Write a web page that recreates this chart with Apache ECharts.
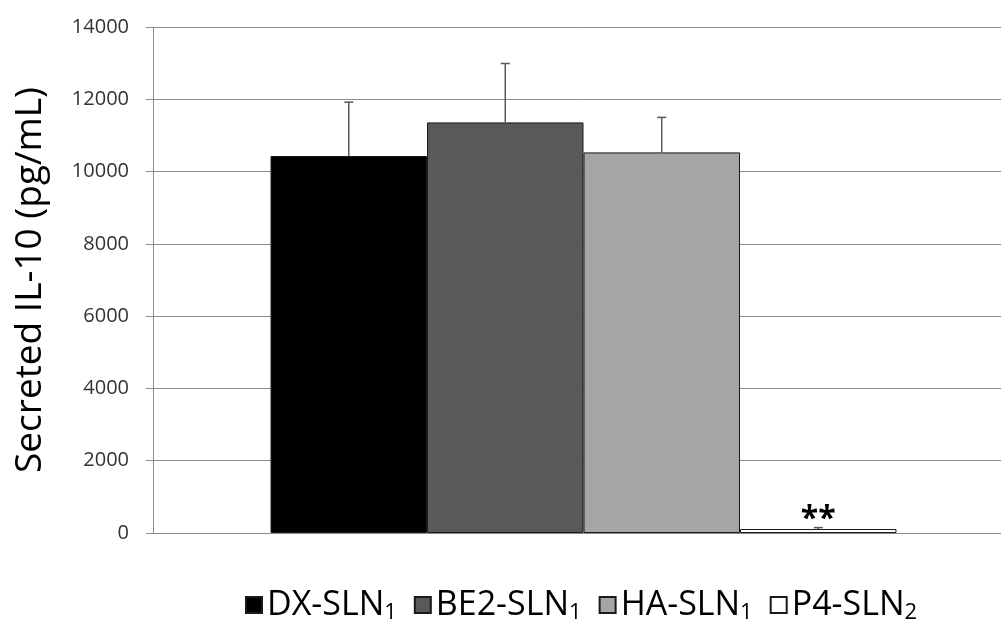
<!DOCTYPE html>
<html>
<head>
<meta charset="utf-8">
<script src="https://cdn.jsdelivr.net/npm/echarts@6/dist/echarts.min.js"></script>
<style>html,body{margin:0;padding:0;background:#fff;}#c{width:1001px;height:626px;}</style>
</head>
<body>
<div id="c"></div>
<script>
const categories = [''];
const seriesNames = ['DX-SLN', 'BE2-SLN', 'HA-SLN', 'P4-SLN'];
const seriesSubs = ['1', '1', '1', '2'];
const means = [10430, 11360, 10530, 110];
const errors = [1490, 1630, 970, 40];
const yTicks = [0, 2000, 4000, 6000, 8000, 10000, 12000, 14000];

const colors = ['#000000', '#595959', '#a6a6a6', '#ffffff'];
const gapRatio = 0.273;
const font = '"Open Sans", "Noto Sans", sans-serif';

const chart = echarts.init(document.getElementById('c'));

const barSeries = seriesNames.map((n, i) => ({
  name: n,
  type: 'bar',
  data: [means[i]],
  barGap: '0%',
  barCategoryGap: (gapRatio * 100) + '%',
  itemStyle: { color: colors[i], borderColor: '#1a1a1a', borderWidth: 1 },
  label: i === 3 ? {
    show: true, position: 'top', distance: -7, formatter: '**',
    fontSize: 32, fontWeight: 'bold', fontFamily: font, color: '#000'
  } : { show: false },
  emphasis: { disabled: true },
  z: 2
}));

const errData = means.map((m, i) => [0, m, errors[i], i]);

const errSeries = {
  type: 'custom',
  data: errData,
  z: 5,
  silent: true,
  renderItem: function (params, api) {
    const mean = api.value(1), err = api.value(2), k = api.value(3);
    const base = api.coord([0, mean]);
    const top = api.coord([0, mean + err]);
    const catW = api.size([1, 0])[0];
    const n = seriesNames.length;
    const bw = catW * (1 - gapRatio) / n;
    const x = base[0] + (k - (n - 1) / 2) * bw;
    const st = { stroke: '#595959', lineWidth: 1.5 };
    return {
      type: 'group',
      children: [
        { type: 'line', shape: { x1: x, y1: base[1], x2: x, y2: top[1] }, style: st },
        { type: 'line', shape: { x1: x - 4.5, y1: top[1], x2: x + 4.5, y2: top[1] }, style: st }
      ]
    };
  }
};

chart.setOption({
  animation: false,
  grid: { left: 153, width: 861, top: 27, bottom: 93, outerBoundsMode: 'none' },
  legend: {
    data: seriesNames,
    left: 240, top: 583,
    itemWidth: 16, itemHeight: 16, itemGap: 17,
    icon: 'rect',
    formatter: function (name) {
      const i = seriesNames.indexOf(name);
      return '{a|' + name + '}{s|' + seriesSubs[i] + '}';
    },
    textStyle: {
      rich: {
        a: { fontSize: 34, fontFamily: font, color: '#000' },
        s: { fontSize: 22, fontFamily: font, color: '#000', verticalAlign: 'bottom', padding: [16, 0, 0, 0] }
      }
    },
    selectedMode: false
  },
  xAxis: {
    type: 'category',
    data: categories,
    axisLine: { show: true, lineStyle: { color: '#8c8c8c', width: 1 } },
    axisTick: { show: false },
    axisLabel: { show: false }
  },
  yAxis: {
    type: 'value',
    min: yTicks[0], max: yTicks[yTicks.length - 1], interval: 2000,
    name: 'Secreted IL-10 (pg/mL)',
    nameLocation: 'middle',
    nameGap: 104,
    nameTextStyle: { fontSize: 37, fontFamily: font, color: '#000' },
    axisLine: { show: true, lineStyle: { color: '#8c8c8c', width: 1 } },
    axisTick: { show: true, inside: false, length: 7, lineStyle: { color: '#8c8c8c' } },
    axisLabel: { margin: 24, fontSize: 20, fontFamily: font, color: '#333', formatter: function (v) { return String(v); } },
    splitLine: { show: true, lineStyle: { color: '#8c8c8c', width: 1 } }
  },
  series: barSeries.concat([errSeries])
});
</script>
</body>
</html>
